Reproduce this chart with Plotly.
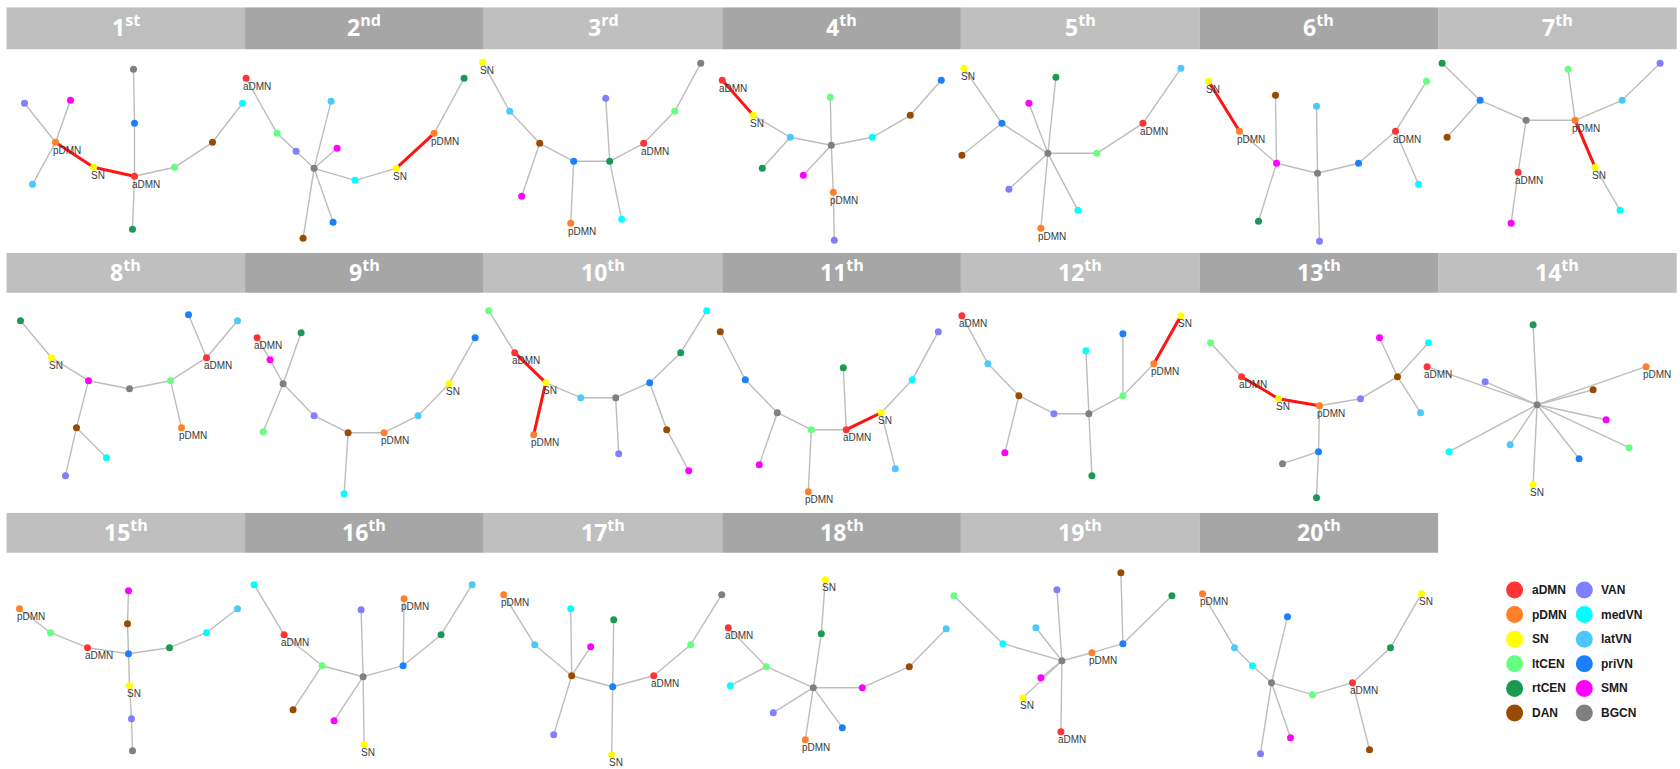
import plotly.graph_objects as go

# Twelve large-scale brain networks and their display colours
NETWORKS = ["aDMN", "pDMN", "SN", "ltCEN", "rtCEN", "DAN",
            "VAN", "medVN", "latVN", "priVN", "SMN", "BGCN"]
NETWORK_COLORS = ["#ff3333", "#ff7f2a", "#ffff00", "#66ff80", "#1a9950", "#994c00",
                  "#8080ff", "#00ffff", "#4dc8ff", "#1a80ff", "#ff00ff", "#808080"]
COLOR_OF = dict(zip(NETWORKS, NETWORK_COLORS))
LABELED = ["aDMN", "pDMN", "SN"]
TRIPLE = {"aDMN", "pDMN", "SN"}   # links inside this set are highlighted

# Tree layouts (x, y) per rank and the links of each minimum spanning tree
LAYOUT_1 = {"BGCN": (127, 62), "priVN": (128, 116), "aDMN": (128, 169), "rtCEN": (126, 222),
            "VAN": (18, 96), "SMN": (64, 93), "pDMN": (49, 135), "latVN": (26, 177),
            "SN": (87, 160), "ltCEN": (168, 160), "DAN": (206, 135), "medVN": (236, 96)}
EDGES_1 = "VAN-pDMN SMN-pDMN latVN-pDMN pDMN-SN SN-aDMN aDMN-priVN priVN-BGCN aDMN-rtCEN aDMN-ltCEN ltCEN-DAN DAN-medVN".split()

LAYOUT_2 = {"aDMN": (1, 71), "ltCEN": (32, 126), "VAN": (51, 144), "BGCN": (69, 161),
            "latVN": (86, 94), "SMN": (92, 141), "priVN": (88, 215), "DAN": (58, 231),
            "medVN": (110, 173), "SN": (151, 161), "pDMN": (189, 126), "rtCEN": (219, 71)}
EDGES_2 = "aDMN-ltCEN ltCEN-VAN VAN-BGCN BGCN-latVN BGCN-SMN BGCN-priVN BGCN-DAN BGCN-medVN medVN-SN SN-pDMN pDMN-rtCEN".split()

LAYOUT_3 = {"SN": (-1, 55), "latVN": (26, 104), "DAN": (56, 136), "SMN": (38, 189),
            "BGCN": (217, 56), "ltCEN": (191, 104), "aDMN": (160, 136), "rtCEN": (126, 154),
            "priVN": (90, 154), "VAN": (122, 91), "medVN": (138, 212), "pDMN": (87, 216)}
EDGES_3 = "SN-latVN latVN-DAN DAN-SMN DAN-priVN priVN-pDMN priVN-rtCEN rtCEN-VAN rtCEN-medVN rtCEN-aDMN aDMN-ltCEN ltCEN-BGCN".split()

LAYOUT_4 = {"aDMN": (0, 73), "SN": (31, 108), "latVN": (68, 130), "rtCEN": (40, 161),
            "BGCN": (109, 138), "ltCEN": (108, 90), "SMN": (81, 168), "pDMN": (111, 185),
            "VAN": (112, 233), "medVN": (150, 130), "DAN": (188, 108), "priVN": (219, 73)}
EDGES_4 = "aDMN-SN SN-latVN latVN-rtCEN latVN-BGCN BGCN-ltCEN BGCN-SMN BGCN-pDMN pDMN-VAN BGCN-medVN medVN-DAN DAN-priVN".split()

LAYOUT_5 = {"SN": (3, 61), "priVN": (41, 116), "DAN": (1, 148), "BGCN": (87, 146),
            "rtCEN": (95, 70), "SMN": (68, 96), "VAN": (48, 182), "medVN": (117, 203),
            "pDMN": (80, 221), "ltCEN": (136, 146), "aDMN": (182, 116), "latVN": (220, 61)}
EDGES_5 = "SN-priVN priVN-DAN priVN-BGCN BGCN-rtCEN BGCN-SMN BGCN-VAN BGCN-medVN BGCN-pDMN BGCN-ltCEN ltCEN-aDMN aDMN-latVN".split()

LAYOUT_6 = {"SN": (9, 74), "pDMN": (40, 124), "DAN": (76, 88), "SMN": (77, 156),
            "rtCEN": (59, 214), "BGCN": (118, 166), "latVN": (117, 99), "VAN": (120, 234),
            "priVN": (159, 156), "aDMN": (196, 124), "ltCEN": (227, 74), "medVN": (219, 177)}
EDGES_6 = "SN-pDMN pDMN-SMN SMN-DAN SMN-rtCEN SMN-BGCN BGCN-latVN BGCN-VAN BGCN-priVN priVN-aDMN aDMN-ltCEN aDMN-medVN".split()

LAYOUT_7 = {"rtCEN": (4, 56), "priVN": (42, 93), "DAN": (9, 130), "BGCN": (88, 113),
            "aDMN": (80, 165), "SMN": (73, 216), "pDMN": (137, 113), "ltCEN": (130, 62),
            "latVN": (184, 93), "VAN": (222, 56), "SN": (157, 160), "medVN": (182, 203)}
EDGES_7 = "rtCEN-priVN priVN-DAN priVN-BGCN BGCN-aDMN aDMN-SMN BGCN-pDMN pDMN-ltCEN pDMN-latVN latVN-VAN pDMN-SN SN-medVN".split()

LAYOUT_8 = {"rtCEN": (14, 68), "SN": (45, 105), "SMN": (82, 128), "BGCN": (123, 136),
            "ltCEN": (164, 128), "aDMN": (200, 105), "priVN": (182, 62), "latVN": (231, 68),
            "pDMN": (175, 175), "DAN": (70, 175), "medVN": (100, 205), "VAN": (59, 223)}
EDGES_8 = "rtCEN-SN SN-SMN SMN-BGCN BGCN-ltCEN ltCEN-aDMN aDMN-priVN aDMN-latVN ltCEN-pDMN SMN-DAN DAN-medVN DAN-VAN".split()

LAYOUT_9 = {"aDMN": (12, 85), "SMN": (25, 107), "rtCEN": (56, 80), "BGCN": (38, 131),
            "ltCEN": (18, 179), "VAN": (69, 163), "DAN": (103, 180), "medVN": (99, 241),
            "pDMN": (139, 180), "latVN": (173, 163), "SN": (204, 131), "priVN": (230, 85)}
EDGES_9 = "aDMN-SMN SMN-BGCN BGCN-rtCEN BGCN-ltCEN BGCN-VAN VAN-DAN DAN-medVN DAN-pDMN pDMN-latVN latVN-SN SN-priVN".split()

LAYOUT_10 = {"ltCEN": (5, 58), "aDMN": (31, 100), "SN": (62, 130), "pDMN": (50, 182),
             "latVN": (97, 145), "BGCN": (132, 145), "VAN": (135, 201), "priVN": (166, 130),
             "rtCEN": (197, 100), "medVN": (223, 58), "DAN": (183, 177), "SMN": (205, 218)}
EDGES_10 = "ltCEN-aDMN aDMN-SN SN-pDMN SN-latVN latVN-BGCN BGCN-VAN BGCN-priVN priVN-rtCEN rtCEN-medVN priVN-DAN DAN-SMN".split()

LAYOUT_11 = {"DAN": (-2, 79), "priVN": (23, 127), "BGCN": (55, 160), "SMN": (37, 212),
             "ltCEN": (89, 177), "pDMN": (86, 239), "aDMN": (124, 177), "rtCEN": (121, 115),
             "SN": (159, 160), "latVN": (173, 216), "medVN": (190, 127), "VAN": (216, 79)}
EDGES_11 = "DAN-priVN priVN-BGCN BGCN-SMN BGCN-ltCEN ltCEN-pDMN ltCEN-aDMN aDMN-rtCEN aDMN-SN SN-latVN SN-medVN medVN-VAN".split()

LAYOUT_12 = {"aDMN": (1, 63), "latVN": (27, 111), "DAN": (58, 143), "SMN": (44, 200),
             "VAN": (93, 161), "BGCN": (128, 161), "medVN": (125, 98), "rtCEN": (131, 223),
             "priVN": (162, 81), "ltCEN": (162, 143), "pDMN": (193, 111), "SN": (220, 63)}
EDGES_12 = "aDMN-latVN latVN-DAN DAN-SMN DAN-VAN VAN-BGCN BGCN-medVN BGCN-rtCEN BGCN-ltCEN ltCEN-priVN ltCEN-pDMN pDMN-SN".split()

LAYOUT_13 = {"ltCEN": (11, 90), "aDMN": (42, 124), "SN": (79, 146), "pDMN": (120, 153),
             "VAN": (161, 146), "DAN": (198, 124), "SMN": (180, 85), "medVN": (229, 90),
             "latVN": (221, 160), "priVN": (119, 199), "BGCN": (83, 211), "rtCEN": (117, 245)}
EDGES_13 = "ltCEN-aDMN aDMN-SN SN-pDMN pDMN-VAN VAN-DAN DAN-SMN DAN-medVN DAN-latVN pDMN-priVN priVN-BGCN priVN-rtCEN".split()

LAYOUT_14 = {"BGCN": (99, 152), "rtCEN": (95, 72), "aDMN": (-11, 114), "VAN": (47, 129),
             "pDMN": (208, 114), "DAN": (155, 137), "SMN": (168, 167), "ltCEN": (191, 195),
             "priVN": (141, 206), "SN": (95, 232), "latVN": (72, 192), "medVN": (11, 199)}
EDGES_14 = "BGCN-rtCEN BGCN-aDMN BGCN-VAN BGCN-pDMN BGCN-DAN BGCN-SMN BGCN-ltCEN BGCN-priVN BGCN-SN BGCN-latVN BGCN-medVN".split()

LAYOUT_15 = {"pDMN": (13, 96), "ltCEN": (44, 120), "aDMN": (81, 135), "priVN": (122, 141),
             "DAN": (121, 111), "SMN": (122, 78), "rtCEN": (163, 135), "medVN": (200, 120),
             "latVN": (231, 96), "SN": (123, 173), "VAN": (125, 206), "BGCN": (126, 238)}
EDGES_15 = "pDMN-ltCEN ltCEN-aDMN aDMN-priVN priVN-DAN DAN-SMN priVN-rtCEN rtCEN-medVN medVN-latVN priVN-SN SN-VAN VAN-BGCN".split()

LAYOUT_16 = {"medVN": (9, 72), "aDMN": (39, 122), "ltCEN": (77, 153), "DAN": (48, 197),
             "SMN": (89, 208), "BGCN": (118, 164), "VAN": (116, 97), "SN": (119, 232),
             "priVN": (158, 153), "pDMN": (159, 86), "rtCEN": (196, 122), "latVN": (227, 72)}
EDGES_16 = "medVN-aDMN aDMN-ltCEN ltCEN-DAN ltCEN-BGCN BGCN-SMN BGCN-VAN BGCN-SN BGCN-priVN priVN-pDMN priVN-rtCEN rtCEN-latVN".split()

LAYOUT_17 = {"pDMN": (20, 82), "latVN": (51, 132), "VAN": (70, 222), "DAN": (88, 163),
             "medVN": (87, 96), "SMN": (107, 134), "priVN": (129, 174), "rtCEN": (130, 107),
             "SN": (128, 242), "aDMN": (170, 163), "ltCEN": (207, 132), "BGCN": (238, 82)}
EDGES_17 = "pDMN-latVN latVN-DAN DAN-VAN DAN-medVN DAN-SMN DAN-priVN priVN-rtCEN priVN-SN priVN-aDMN aDMN-ltCEN ltCEN-BGCN".split()

LAYOUT_18 = {"SN": (103, 67), "rtCEN": (99, 121), "aDMN": (6, 115), "ltCEN": (44, 154),
             "medVN": (8, 173), "BGCN": (91, 175), "VAN": (51, 200), "pDMN": (83, 227),
             "priVN": (120, 215), "SMN": (140, 175), "DAN": (187, 154), "latVN": (224, 116)}
EDGES_18 = "SN-rtCEN rtCEN-BGCN aDMN-ltCEN ltCEN-medVN ltCEN-BGCN BGCN-VAN BGCN-pDMN BGCN-priVN BGCN-SMN SMN-DAN DAN-latVN".split()

LAYOUT_19 = {"ltCEN": (-7, 83), "medVN": (42, 131), "VAN": (96, 77), "latVN": (75, 115),
             "BGCN": (101, 148), "SMN": (80, 165), "SN": (62, 185), "aDMN": (100, 219),
             "pDMN": (131, 140), "DAN": (160, 60), "priVN": (162, 131), "rtCEN": (211, 83)}
EDGES_19 = "ltCEN-medVN medVN-BGCN BGCN-VAN BGCN-latVN BGCN-SMN BGCN-SN BGCN-aDMN BGCN-pDMN pDMN-priVN priVN-DAN priVN-rtCEN".split()

LAYOUT_20 = {"pDMN": (3, 81), "latVN": (35, 135), "medVN": (53, 153), "BGCN": (72, 170),
             "priVN": (88, 104), "VAN": (61, 241), "SMN": (91, 225), "ltCEN": (113, 182),
             "aDMN": (153, 170), "DAN": (170, 237), "rtCEN": (191, 135), "SN": (222, 81)}
EDGES_20 = "pDMN-latVN latVN-medVN medVN-BGCN BGCN-priVN BGCN-VAN BGCN-SMN BGCN-ltCEN ltCEN-aDMN aDMN-DAN aDMN-rtCEN rtCEN-SN".split()

PANELS = [
    (LAYOUT_1, EDGES_1), (LAYOUT_2, EDGES_2), (LAYOUT_3, EDGES_3), (LAYOUT_4, EDGES_4),
    (LAYOUT_5, EDGES_5), (LAYOUT_6, EDGES_6), (LAYOUT_7, EDGES_7), (LAYOUT_8, EDGES_8),
    (LAYOUT_9, EDGES_9), (LAYOUT_10, EDGES_10), (LAYOUT_11, EDGES_11), (LAYOUT_12, EDGES_12),
    (LAYOUT_13, EDGES_13), (LAYOUT_14, EDGES_14), (LAYOUT_15, EDGES_15), (LAYOUT_16, EDGES_16),
    (LAYOUT_17, EDGES_17), (LAYOUT_18, EDGES_18), (LAYOUT_19, EDGES_19), (LAYOUT_20, EDGES_20),
]

# ---- page geometry (pixels) ----
FIG_W, FIG_H = 1680, 769
COL_LEFT, COL_W = 6.5, 238.6
ROW_TOP = [7.3, 252.7, 512.7]
ROW_END = [252.7, 512.7, 769.0]
HEADER_H = [42, 40, 40]
HEADER_FILL = ["#bfbfbf", "#a6a6a6"]
PAD = 26
EDGE_GRAY = "#bdbdbd"
EDGE_RED = "#ff1414"
LABEL_FONT = dict(family="Liberation Sans, Arial, sans-serif", size=10, color="#3a3a3a")


def ordinal(n):
    if 10 <= n % 100 <= 20:
        return "th"
    return {1: "st", 2: "nd", 3: "rd"}.get(n % 10, "th")


def axis_names(k):
    return ("xaxis" if k == 1 else f"xaxis{k}", "yaxis" if k == 1 else f"yaxis{k}",
            "x" if k == 1 else f"x{k}", "y" if k == 1 else f"y{k}")


fig = go.Figure()
axes = {}
shapes, annotations = [], []

for i, (nodes, edges) in enumerate(PANELS):
    k = i + 1
    r, c = divmod(i, 7)
    left = COL_LEFT + c * COL_W
    top = ROW_TOP[r]
    px0, px1 = max(0.0, left - PAD), min(FIG_W, left + COL_W + PAD)
    py0, py1 = top, min(FIG_H, ROW_END[r] + 4)
    xa, ya, xr, yr = axis_names(k)
    axes[xa] = dict(domain=[px0 / FIG_W, px1 / FIG_W], range=[px0 - left, px1 - left],
                    visible=False, fixedrange=True)
    axes[ya] = dict(domain=[1 - py1 / FIG_H, 1 - py0 / FIG_H], range=[py1 - top, py0 - top],
                    visible=False, fixedrange=True)

    # rank header
    shapes.append(dict(type="rect", xref=xr, yref=yr, x0=0, x1=COL_W, y0=0, y1=HEADER_H[r],
                       fillcolor=HEADER_FILL[c % 2], line=dict(width=0), layer="below"))
    annotations.append(dict(xref=xr, yref=yr, x=COL_W / 2, y=HEADER_H[r] / 2, showarrow=False,
                            text=f"<b>{k}<sup>{ordinal(k)}</sup></b>", yshift=2,
                            font=dict(family="Open Sans, sans-serif", size=23, color="white")))

    # links
    gx, gy, rx, ry = [], [], [], []
    for e in edges:
        a, b = e.split("-")
        tx, ty = (rx, ry) if (a in TRIPLE and b in TRIPLE) else (gx, gy)
        tx += [nodes[a][0], nodes[b][0], None]
        ty += [nodes[a][1], nodes[b][1], None]
    fig.add_trace(go.Scatter(x=gx, y=gy, mode="lines", xaxis=xr, yaxis=yr,
                             line=dict(color=EDGE_GRAY, width=1.4),
                             hoverinfo="skip", showlegend=False))
    if rx:
        fig.add_trace(go.Scatter(x=rx, y=ry, mode="lines", xaxis=xr, yaxis=yr,
                                 line=dict(color=EDGE_RED, width=3),
                                 hoverinfo="skip", showlegend=False))

    # network nodes
    names = [n for n in NETWORKS if n in nodes]
    fig.add_trace(go.Scatter(x=[nodes[n][0] for n in names], y=[nodes[n][1] for n in names],
                             mode="markers", xaxis=xr, yaxis=yr, cliponaxis=False,
                             marker=dict(size=7, color=[COLOR_OF[n] for n in names], line=dict(width=0)),
                             text=names, hoverinfo="text", showlegend=False))
    for n in LABELED:
        annotations.append(dict(xref=xr, yref=yr, x=nodes[n][0], y=nodes[n][1], text=n,
                                showarrow=False, xanchor="left", yanchor="middle",
                                xshift=-5, yshift=-8, font=LABEL_FONT))

# ---- colour key in the empty slot ----
xa, ya, xr, yr = axis_names(21)
axes[xa] = dict(domain=[1500 / FIG_W, 1.0], range=[0, 180], visible=False, fixedrange=True)
axes[ya] = dict(domain=[1 - 730 / FIG_H, 1 - 575 / FIG_H], range=[155, 0], visible=False, fixedrange=True)
key_x = [14.6 + (j // 6) * 69.7 for j in range(len(NETWORKS))]
key_y = [15 + (j % 6) * 24.6 for j in range(len(NETWORKS))]
fig.add_trace(go.Scatter(x=key_x, y=key_y, mode="markers", xaxis=xr, yaxis=yr, cliponaxis=False,
                         marker=dict(size=17, color=NETWORK_COLORS, line=dict(width=0)),
                         text=NETWORKS, hoverinfo="text", showlegend=False))
for name, kx, ky in zip(NETWORKS, key_x, key_y):
    annotations.append(dict(xref=xr, yref=yr, x=kx, y=ky, text=f"<b>{name}</b>", showarrow=False,
                            xanchor="left", yanchor="middle", xshift=15,
                            font=dict(family="Liberation Sans, Arial, sans-serif", size=12, color="#1a1a1a")))

fig.update_layout(
    width=FIG_W, height=FIG_H,
    margin=dict(l=0, r=0, t=0, b=0),
    paper_bgcolor="white", plot_bgcolor="rgba(0,0,0,0)",
    showlegend=False,
    shapes=shapes, annotations=annotations,
    **axes,
)

fig.write_html("out.html")
